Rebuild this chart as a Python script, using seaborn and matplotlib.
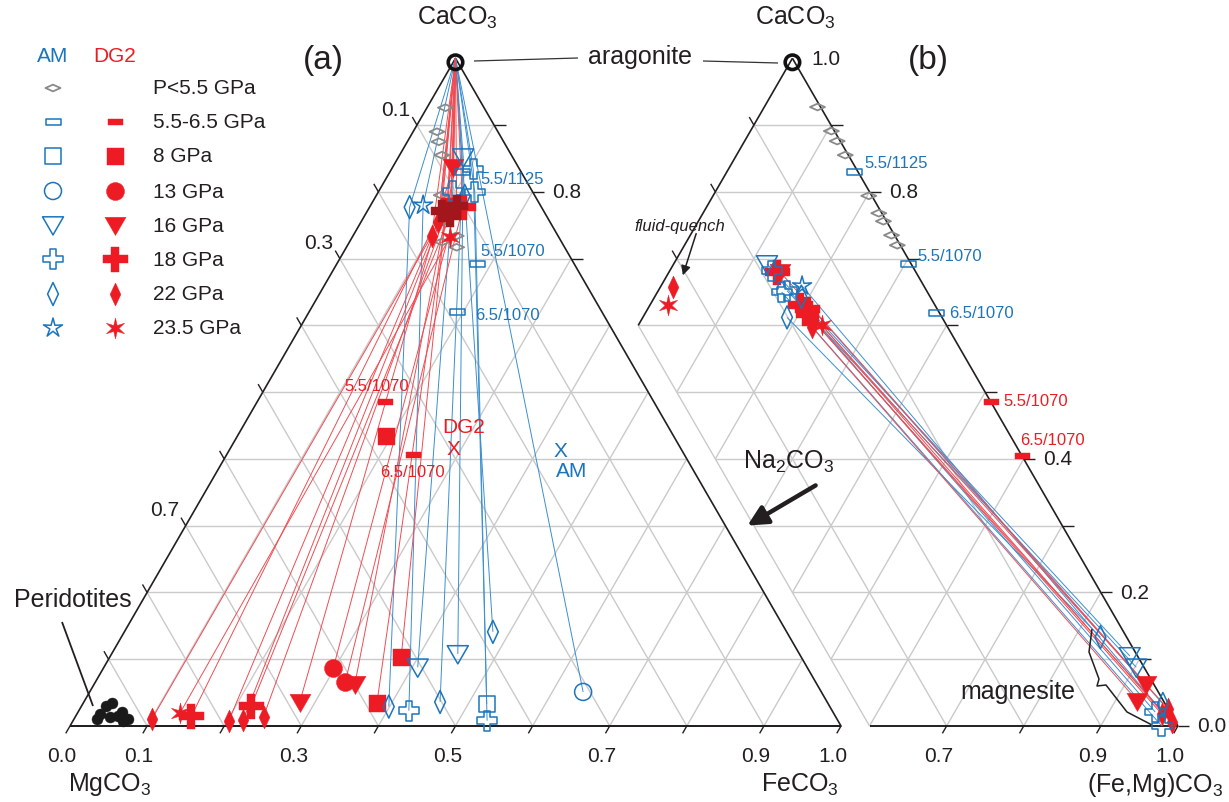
import numpy as np
import matplotlib
matplotlib.use("Agg")
import matplotlib.pyplot as plt
from matplotlib.path import Path
import seaborn as sns

sns.set_style("white")
plt.rcParams["font.family"] = ["Liberation Sans", "DejaVu Sans"]
plt.rcParams["mathtext.fontset"] = "custom"
plt.rcParams["mathtext.rm"] = "Liberation Sans"
plt.rcParams["mathtext.it"] = "Liberation Sans:italic"
plt.rcParams["mathtext.default"] = "regular"

# ---------------------------------------------------------------- data
# panel (a): compositions as (FeCO3, CaCO3) fractions, MgCO3 = remainder
PERIDOTITE_FE = [0.029, 0.030, 0.032, 0.037, 0.045, 0.057, 0.065, 0.070, 0.055]
PERIDOTITE_CA = [0.011, 0.018, 0.030, 0.034, 0.014, 0.021, 0.008, 0.011, 0.015]

A_LOWP_FE = [0.024, 0.031, 0.041, 0.055, 0.084, 0.106, 0.120, 0.143, 0.134]
A_LOWP_CA = [0.926, 0.890, 0.875, 0.855, 0.795, 0.755, 0.725, 0.717, 0.734]

A_AM_MELT = {"6": ([0.094, 0.182, 0.193], [0.830, 0.692, 0.620]),
             "16": ([0.084], [0.852]),
             "18": ([0.106, 0.096, 0.125], [0.834, 0.801, 0.800]),
             "22": ([0.115, 0.052], [0.794, 0.777]),
             "23.5": ([0.068], [0.780])}
A_AM_SOLID = {"8": ([0.524], [0.033]),
              "13": ([0.640], [0.051]),
              "16": ([0.407, 0.449], [0.088, 0.108]),
              "18": ([0.428, 0.537], [0.023, 0.008]),
              "22": ([0.399, 0.462, 0.478], [0.029, 0.036, 0.141])}
A_DG2_MELT = {"6": ([0.166, 0.242, 0.097], [0.485, 0.406, 0.787]),
              "8": ([0.193], [0.435]),
              "16": ([0.078], [0.837]),
              "18": ([0.121], [0.777]),
              "22": ([0.102, 0.100], [0.734, 0.755]),
              "23.5": ([0.127], [0.732])}
A_DG2_MELT_DARK18_FE = [0.096, 0.112, 0.111]
A_DG2_MELT_DARK18_CA = [0.772, 0.779, 0.764]
A_DG2_SOLID = {"8": ([0.381, 0.378], [0.034, 0.103]),
               "13": ([0.298, 0.324], [0.087, 0.066]),
               "16": ([0.280, 0.338], [0.036, 0.063]),
               "18": ([0.150, 0.220], [0.015, 0.030]),
               "22": ([0.101, 0.202, 0.220, 0.244], [0.011, 0.008, 0.009, 0.014]),
               "23.5": ([0.133], [0.020])}

# tie lines of panel (a): CaCO3 apex -> melt -> solid
A_DG2_TIE_MELT_FE = [0.102, 0.100, 0.104, 0.110, 0.127, 0.096, 0.111, 0.078, 0.085, 0.112, 0.121, 0.097, 0.090]
A_DG2_TIE_MELT_CA = [0.734, 0.755, 0.745, 0.735, 0.732, 0.772, 0.764, 0.837, 0.825, 0.779, 0.777, 0.787, 0.800]
A_DG2_TIE_SOL_FE = [0.101, 0.202, 0.220, 0.244, 0.133, 0.150, 0.220, 0.280, 0.338, 0.298, 0.324, 0.381, 0.378]
A_DG2_TIE_SOL_CA = [0.011, 0.008, 0.009, 0.014, 0.020, 0.015, 0.030, 0.036, 0.063, 0.087, 0.066, 0.034, 0.103]
A_AM_TIE_MELT_FE = [0.084, 0.052, 0.068, 0.106, 0.125, 0.115, 0.096, 0.094, 0.000]
A_AM_TIE_MELT_CA = [0.852, 0.777, 0.780, 0.834, 0.800, 0.794, 0.801, 0.830, 1.000]
A_AM_TIE_SOL_FE = [0.449, 0.399, 0.428, 0.537, 0.524, 0.478, 0.407, 0.462, 0.640]
A_AM_TIE_SOL_CA = [0.108, 0.029, 0.023, 0.008, 0.033, 0.141, 0.088, 0.036, 0.051]

START_DG2 = (0.289, 0.416)
START_AM = (0.430, 0.413)

# panel (b): compositions as (Na2CO3, CaCO3) fractions, (Fe,Mg)CO3 = remainder
B_LOWP_NA = [0.004, 0.004, 0.004, 0.004, 0.004, 0.004, 0.004, 0.004, 0.004]
B_LOWP_CA = [0.927, 0.891, 0.876, 0.855, 0.794, 0.768, 0.756, 0.735, 0.720]
B_AM = {"6": ([0.004, 0.004, 0.004], [0.830, 0.692, 0.619]),
        "16": ([0.187, 0.010, 0.010], [0.692, 0.105, 0.088]),
        "18": ([0.186, 0.189, 0.181, 0.021, 0.019], [0.682, 0.650, 0.652, 0.000, 0.021]),
        "22": ([0.167, 0.201, 0.034, 0.003], [0.643, 0.612, 0.133, 0.033]),
        "23.5": ([0.158], [0.659])}
B_DG2 = {"6": ([0.000, 0.000], [0.485, 0.405]),
         "8": ([0.171], [0.613]),
         "16": ([0.176, 0.010, 0.034], [0.680, 0.063, 0.038]),
         "18": ([0.180, 0.175, 0.169], [0.680, 0.630, 0.625]),
         "22": ([0.176, 0.327, 0.012, 0.000, 0.005], [0.598, 0.657, 0.018, 0.026, 0.006]),
         "23.5": ([0.162, 0.346], [0.600, 0.630])}
B_AM_TIE_TOP_NA = [0.187, 0.186, 0.189, 0.201, 0.167, 0.181, 0.158]
B_AM_TIE_TOP_CA = [0.692, 0.682, 0.650, 0.612, 0.643, 0.652, 0.659]
B_AM_TIE_BOT_NA = [0.010, 0.019, 0.021, 0.034, 0.003, 0.010, 0.008]
B_AM_TIE_BOT_CA = [0.105, 0.021, 0.000, 0.133, 0.033, 0.088, 0.015]
B_DG2_TIE_TOP_NA = [0.176, 0.175, 0.169, 0.171, 0.176, 0.162]
B_DG2_TIE_TOP_CA = [0.680, 0.630, 0.625, 0.613, 0.598, 0.600]
B_DG2_TIE_BOT_NA = [0.010, 0.012, 0.000, 0.005, 0.034, 0.008]
B_DG2_TIE_BOT_CA = [0.063, 0.018, 0.026, 0.006, 0.038, 0.012]

LEGEND_KEYS = ["lo", "6", "8", "13", "16", "18", "22", "23.5"]
LEGEND_LABELS = ["P<5.5 GPa", "5.5-6.5 GPa", "8 GPa", "13 GPa", "16 GPa", "18 GPa", "22 GPa", "23.5 GPa"]

A_BOTTOM_TICKS = [0.0, 0.1, 0.3, 0.5, 0.7, 0.9, 1.0]
A_LEFT_TICKS = [0.1, 0.3, 0.7]
A_RIGHT_TICKS = [0.8]
B_BOTTOM_TICKS = [0.7, 0.9, 1.0]
B_RIGHT_TICKS = [1.0, 0.8, 0.4, 0.2, 0.0]

# ---------------------------------------------------------------- style
BLUE = "#1b75bc"
RED = "#ed1c24"
DARKRED = "#a3161c"
GRAY = "#8a8a8a"
GRID = "#cacaca"
TXT = "#231f20"
RED_LINE = "#f04c52"
BLUE_LINE = "#3a8fd0"

S3 = np.sqrt(3) / 2
OFF_B = 0.437
PXU = 771.0  # pixels per triangle side


def tern_a(fe, ca):
    fe = np.asarray(fe, float)
    ca = np.asarray(ca, float)
    return fe + ca / 2, ca * S3


def tern_b(na, ca):
    na = np.asarray(na, float)
    ca = np.asarray(ca, float)
    return OFF_B + 1 - na - ca / 2, ca * S3


def px(x, y):
    return (x - 70) / PXU, (727 - y) / PXU


def poly(verts):
    v = list(verts) + [verts[0]]
    return Path(v, [Path.MOVETO] + [Path.LINETO] * (len(verts) - 1) + [Path.CLOSEPOLY])


def star(n, inner):
    ang = np.pi / 2 + np.arange(2 * n) * np.pi / n
    r = np.where(np.arange(2 * n) % 2 == 0, 1.0, inner)
    return poly(list(zip(r * np.cos(ang), r * np.sin(ang))))


FLAT_DIAMOND = poly([(-1, 0), (0, 0.45), (1, 0), (0, -0.45)])
TALL_DIAMOND = poly([(0, 1), (0.47, 0), (0, -1), (-0.47, 0)])
BAR = poly([(-1, -0.38), (1, -0.38), (1, 0.38), (-1, 0.38)])
TRI_DOWN = poly([(-1, 0.78), (1, 0.78), (0, -0.95)])
STAR5 = star(5, 0.33)
STAR6 = star(6, 0.33)

MARKERS = {"lo": (FLAT_DIAMOND, 15), "6": (BAR, 15), "8": ("s", 16), "13": ("o", 17),
           "16": (TRI_DOWN, 21), "18": ("P", 20), "22": (TALL_DIAMOND, 23), "23.5": (STAR5, 20)}
RED_OVERRIDE = {"18": ("P", 25), "23.5": (STAR6, 21), "8": ("s", 17), "13": ("o", 18)}

fig = plt.figure(figsize=(12.29, 8.03), dpi=100)
ax = fig.add_axes([0, 0, 1, 1])


def mark(x, y, marker, size_px, color, filled, lw=1.1, z=6):
    m = size_px * 0.72
    sns.scatterplot(x=np.atleast_1d(np.asarray(x, float)), y=np.atleast_1d(np.asarray(y, float)),
                    marker=marker, s=m * m, color=color,
                    facecolor=(color if filled else "none"), edgecolor=color,
                    linewidth=(0.3 if filled else lw), ax=ax, legend=False, zorder=z)


def mark_group(groups, conv, color, filled, z):
    for key, (u, v) in groups.items():
        if filled:
            marker, size = RED_OVERRIDE.get(key, MARKERS[key])
        else:
            marker, size = MARKERS[key]
        x, y = conv(u, v)
        mark(x, y, marker, size, color, filled, z=z)


def text(xy, s, size, color=TXT, ha="center", va="center", **kw):
    ax.text(xy[0], xy[1], s, fontsize=size, color=color, ha=ha, va=va, zorder=9, **kw)


def line(xs, ys, color, lw, z=2, **kw):
    ax.plot(xs, ys, color=color, lw=lw, zorder=z, solid_capstyle="butt", **kw)


# ---------------------------------------------------------------- grids
for k in range(1, 10):
    t = k / 10
    line(*tern_a([0, 1 - t], [t, t]), GRID, 1.0, 1)
    line(*tern_a([t, t], [0, 1 - t]), GRID, 1.0, 1)
    line(*tern_a([1 - t, 0], [0, 1 - t]), GRID, 1.0, 1)
    na0 = min(0.4, 1 - t)
    line(*tern_b([na0, 0], [t, t]), GRID, 1.0, 1)
    line(*tern_b([na0, 0], [1 - t - na0, 1 - t]), GRID, 1.0, 1)
for n in [0.1, 0.2, 0.3, 0.4]:
    line(*tern_b([n, n], [0, 1 - n]), GRID, 1.0, 1)

# ---------------------------------------------------------------- frames & ticks
line(*tern_a([0, 1, 0, 0], [0, 0, 1, 0]), TXT, 1.2, 2)
line(*tern_b([0, 0], [1, 0]), TXT, 1.2, 2)
line(*tern_b([0, 0.4], [1, 0.6]), TXT, 1.2, 2)
line(*tern_b([0.4, 0], [0, 0]), TXT, 1.4, 2)
line(*tern_a([0, 1], [0, 0]), TXT, 1.4, 2)

for k in range(11):
    f = k / 10
    line(*tern_a([f, f], [0, -0.011]), TXT, 1.0, 2)
for k in range(1, 10):
    m = k / 10
    line(*tern_a([0, -0.012], [1 - m, 1 - m + 0.012]), TXT, 1.0, 2)
for c in [0.7, 0.8, 0.9]:
    line(*tern_a([1 - c, 1 - c + 0.015], [c, c]), TXT, 1.0, 2)
for k in range(10):
    c = k / 10
    line(*tern_b([0, -0.015], [c, c]), TXT, 1.0, 2)
for c in [0.7, 0.8, 0.9]:
    line(*tern_b([1 - c, 1 - c], [c, c + 0.012]), TXT, 1.0, 2)
for f in [0.7, 0.8, 0.9, 1.0]:
    line(*tern_b([1 - f, 1 - f + 0.011], [0, -0.011]), TXT, 1.0, 2)

# ---------------------------------------------------------------- tie lines
for mf, mc, sf, sc in zip(A_AM_TIE_MELT_FE, A_AM_TIE_MELT_CA, A_AM_TIE_SOL_FE, A_AM_TIE_SOL_CA):
    line(*tern_a([0, mf, sf], [1, mc, sc]), BLUE_LINE, 0.7, 3)
for mf, mc, sf, sc in zip(A_DG2_TIE_MELT_FE, A_DG2_TIE_MELT_CA, A_DG2_TIE_SOL_FE, A_DG2_TIE_SOL_CA):
    line(*tern_a([0, mf, sf], [1, mc, sc]), RED_LINE, 0.7, 3)
for tn, tc, bn, bc in zip(B_AM_TIE_TOP_NA, B_AM_TIE_TOP_CA, B_AM_TIE_BOT_NA, B_AM_TIE_BOT_CA):
    line(*tern_b([tn, bn], [tc, bc]), BLUE_LINE, 0.7, 3)
for tn, tc, bn, bc in zip(B_DG2_TIE_TOP_NA, B_DG2_TIE_TOP_CA, B_DG2_TIE_BOT_NA, B_DG2_TIE_BOT_CA):
    line(*tern_b([tn, bn], [tc, bc]), RED_LINE, 0.7, 3)

# ---------------------------------------------------------------- points
mark(*tern_a(PERIDOTITE_FE, PERIDOTITE_CA), "o", 11, "#1a1a1a", True, z=5)
mark(*tern_a(A_LOWP_FE, A_LOWP_CA), FLAT_DIAMOND, 15, GRAY, False, lw=1.3, z=4)
mark(*tern_b(B_LOWP_NA, B_LOWP_CA), FLAT_DIAMOND, 15, GRAY, False, lw=1.3, z=4)

mark_group(A_DG2_SOLID, tern_a, RED, True, 5)
mark_group(A_DG2_MELT, tern_a, RED, True, 5)
mark_group(A_AM_SOLID, tern_a, BLUE, False, 6)
mark_group(A_AM_MELT, tern_a, BLUE, False, 6)
mark(*tern_a(A_DG2_MELT_DARK18_FE, A_DG2_MELT_DARK18_CA), "P", 22, DARKRED, True, z=7)

mark_group(B_DG2, tern_b, RED, True, 5)
mark_group(B_AM, tern_b, BLUE, False, 6)

# aragonite
mark(*tern_a([0.003], [0.994]), "o", 14.5, "#111111", False, lw=2.6, z=8)
mark(*tern_b([0.003], [0.994]), "o", 14.5, "#111111", False, lw=2.6, z=8)

# starting compositions
text(tern_a(*START_DG2), "X", 15, RED)
text(tern_a(*START_AM), "X", 15, BLUE)
text(px(464, 428), "DG2", 15, RED)
text(px(572, 472), "AM", 15, BLUE)

# ---------------------------------------------------------------- tick labels
for v in A_BOTTOM_TICKS:
    x, y = tern_a(v, 0)
    text((x - 8 / PXU, y - 30 / PXU), f"{v:.1f}", 15)
for v in B_BOTTOM_TICKS:
    x, y = tern_b(1 - v, 0)
    text((x - 8 / PXU, y - 30 / PXU), f"{v:.1f}", 15)
for v in A_LEFT_TICKS:
    x, y = tern_a(0, 1 - v)
    text((x - 21 / PXU, y + 16 / PXU), f"{v:.1f}", 15)
for v in A_RIGHT_TICKS:
    x, y = tern_a(1 - v, v)
    text((x + 34 / PXU, y), f"{v:.1f}", 15)
for v in B_RIGHT_TICKS:
    x, y = tern_b(0, v)
    text((x + 34 / PXU, y), f"{v:.1f}", 15)

# ---------------------------------------------------------------- labels
text(px(457, 18), r"CaCO$_3$", 18)
text(px(795, 18), r"CaCO$_3$", 18)
text(px(323, 60), "(a)", 24)
text(px(928, 60), "(b)", 24)
text(px(640, 57), "aragonite", 18)
text(px(73, 600), "Peridotites", 18)
text(px(110, 785), r"MgCO$_3$", 18)
text(px(800, 785), r"FeCO$_3$", 18)
text(px(1155, 785), r"(Fe,Mg)CO$_3$", 18)
text(px(789, 462), r"Na$_2$CO$_3$", 18)
text(px(1018, 692), "magnesite", 18)
text(px(680, 227), "fluid-quench", 12, style="italic")

text(px(480, 180), "5.5/1125", 12, BLUE, ha="left")
text(px(480, 251), "5.5/1070", 12, BLUE, ha="left")
text(px(475, 316), "6.5/1070", 12, BLUE, ha="left")
text(px(377, 387), "5.5/1070", 12, RED)
text(px(412, 473), "6.5/1070", 12, RED)
text(px(864, 163), "5.5/1125", 12, BLUE, ha="left")
text(px(917, 257), "5.5/1070", 12, BLUE, ha="left")
text(px(949, 314), "6.5/1070", 12, BLUE, ha="left")
text(px(1003, 402), "5.5/1070", 12, RED, ha="left")
text(px(1020, 441), "6.5/1070", 12, RED, ha="left")

# leaders and arrows
line(*zip(px(474, 62), px(578, 59)), "#333333", 0.9, 4)
line(*zip(px(703, 62), px(778, 64)), "#333333", 0.9, 4)
line(*zip(px(62, 623), px(93, 707)), TXT, 1.3, 4)
brace = [px(1092, 630), px(1089, 653), px(1099, 680), px(1097, 687), px(1106, 686),
         px(1127, 713), px(1152, 726)]
line(*zip(*brace), TXT, 1.1, 4)
ax.annotate("", xy=px(682, 279), xytext=px(697, 232),
            arrowprops=dict(arrowstyle="-|>", color=TXT, lw=1.1, mutation_scale=14), zorder=9)
ax.annotate("", xy=px(745, 528), xytext=px(818, 485),
            arrowprops=dict(arrowstyle="-|>", color=TXT, lw=3.2, mutation_scale=30), zorder=9)

# ---------------------------------------------------------------- legend
text(px(53, 57), "AM", 15, BLUE)
text(px(115, 57), "DG2", 15, RED)
ROW_Y = [89, 123, 157, 192, 226, 260, 295, 329]
for key, lab, ry in zip(LEGEND_KEYS, LEGEND_LABELS, ROW_Y):
    marker, size = MARKERS[key]
    if key == "lo":
        mark(*px(53, ry), marker, size, GRAY, False, lw=1.3, z=7)
    else:
        mark(*px(53, ry), marker, size, BLUE, False, z=7)
        rm, rs = RED_OVERRIDE.get(key, MARKERS[key])
        mark(*px(115, ry), rm, rs, RED, True, z=7)
    text(px(153, ry), lab, 15, ha="left")

ax.set_xlim(-70 / PXU, 1159 / PXU)
ax.set_ylim(-76 / PXU, 727 / PXU)
ax.axis("off")
fig.savefig("out.png", dpi=100)
